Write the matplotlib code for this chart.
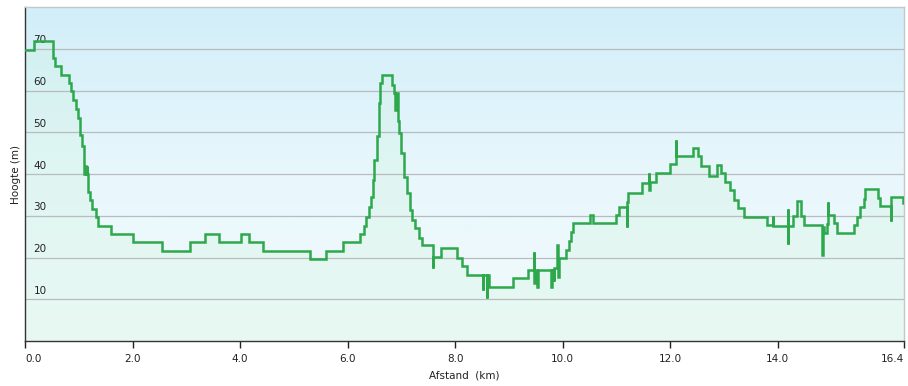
import numpy as np
import matplotlib
matplotlib.use("Agg")
import matplotlib.pyplot as plt
from matplotlib.colors import LinearSegmentedColormap
from matplotlib.transforms import ScaledTranslation

# ---- data (distance km, elevation m), step-wise GPS profile ----
distance_km = [
    0.00, 0.16, 0.52, 0.56, 0.67, 0.81, 0.86, 0.90, 0.95, 0.99, 1.03, 1.06,
    1.09, 1.10, 1.115, 1.13, 1.145, 1.16, 1.18, 1.21, 1.24, 1.32, 1.35,
    1.60, 2.01, 2.55, 3.06, 3.35, 3.60, 4.02, 4.16, 4.42, 5.31, 5.59, 5.92,
    6.24, 6.30, 6.35, 6.40, 6.43, 6.47, 6.50, 6.54, 6.58, 6.61, 6.64, 6.82,
    6.86, 6.89, 6.895, 6.93, 6.95, 7.00, 7.05, 7.10, 7.16, 7.20, 7.25, 7.33,
    7.39, 7.58, 7.585, 7.73, 8.03, 8.12, 8.23, 8.51, 8.515, 8.59, 8.595,
    8.63, 9.07, 9.35, 9.47, 9.475, 9.48, 9.53, 9.535, 9.79, 9.795, 9.84,
    9.845, 9.90, 9.905, 9.93, 10.06, 10.12, 10.15, 10.20, 10.51, 10.57,
    10.99, 11.05, 11.20, 11.205, 11.22, 11.47, 11.61, 11.615, 11.62, 11.74,
    12.00, 12.10, 12.105, 12.42, 12.51, 12.57, 12.73, 12.87, 12.95, 13.02,
    13.11, 13.19, 13.27, 13.38, 13.80, 13.91, 13.915, 14.19, 14.195, 14.20,
    14.28, 14.36, 14.44, 14.49, 14.83, 14.835, 14.87, 14.92, 14.94, 14.945,
    15.04, 15.11, 15.42, 15.48, 15.54, 15.60, 15.62, 15.86, 15.91, 16.11,
    16.115, 16.33, 16.35,
]
elevation_m = [
    69.8, 71.8, 67.8, 65.8, 63.8, 61.8, 59.8, 57.8, 55.6, 53.4, 49.4, 46.6,
    42.0, 40.0, 42.0, 40.0, 42.0, 40.0, 35.8, 33.8, 31.6, 29.6, 27.6,
    25.6, 23.6, 21.6, 23.6, 25.6, 23.6, 25.6, 23.6, 21.6, 19.6, 21.6, 23.6,
    25.6, 27.6, 29.8, 32.2, 34.6, 38.6, 43.4, 49.0, 57.0, 61.8, 63.6, 61.4,
    59.4, 55.4, 59.4, 52.6, 49.8, 45.0, 39.4, 35.4, 31.4, 29.1, 27.0, 24.6,
    23.0, 17.6, 20.2, 22.2, 20.0, 17.9, 15.9, 12.2, 15.9, 10.2, 15.9,
    13.0, 15.0, 17.0, 21.4, 13.8, 17.0, 13.0, 17.0, 13.0, 17.0, 14.4,
    17.4, 23.0, 15.4, 19.8, 21.8, 23.9, 26.2, 28.2, 30.2, 28.2,
    30.2, 32.2, 27.4, 33.4, 35.5, 37.8, 40.3, 36.2, 38.0, 40.2,
    42.4, 48.2, 44.2, 46.2, 44.2, 41.8, 39.6, 42.2, 40.2, 38.2,
    36.2, 33.8, 31.8, 29.8, 27.8, 30.0, 27.6, 23.2, 31.5, 27.6,
    30.0, 33.6, 30.0, 27.8, 20.6, 27.4, 25.8, 28.0, 33.4, 30.2,
    28.2, 25.9, 27.8, 29.8, 32.0, 34.0, 36.3, 34.2, 32.3, 28.8,
    34.4, 33.0, 33.0,
]
x_ticks = [0.0, 2.0, 4.0, 6.0, 8.0, 10.0, 12.0, 14.0, 16.35]
x_tick_labels = ["0.0", "2.0", "4.0", "6.0", "8.0", "10.0", "12.0", "14.0", "16.4"]
y_ticks = [10, 20, 30, 40, 50, 60, 70]
y_tick_labels = ["10", "20", "30", "40", "50", "60", "70"]

plt.rcParams['font.family'] = ['DejaVu Sans']

fig = plt.figure(figsize=(9.08, 3.86), dpi=100)
fig.patch.set_facecolor('white')
ax = fig.add_axes([25 / 908, 45 / 386, 879 / 908, 334 / 386])

# background gradient
cmap = LinearSegmentedColormap.from_list('bg', ['#f3fbfc', '#e8f7fc', '#d2eef9'])
grad = np.linspace(0, 1, 256).reshape(-1, 1)
ax.imshow(grad, cmap=cmap, extent=[0, 1, 0, 1], transform=ax.transAxes,
          aspect='auto', origin='lower', zorder=0)

x = np.array(distance_km)
y = np.array(elevation_m)
ax.fill_between(x, y, 0, step='post', color='#c4f2d2', alpha=0.22, zorder=1, linewidth=0)
ax.plot(x, y, drawstyle='steps-post', color='#2ea84c', linewidth=1.8, zorder=3,
        solid_joinstyle='miter')

ax.set_xlim(0, 16.35)
ax.set_ylim(0, 80)

# grid
for v in y_ticks:
    ax.axhline(v, color='#b8bcbe', linewidth=0.9, zorder=2)

ax.set_yticks(y_ticks)
ax.set_yticklabels(y_tick_labels)
ax.tick_params(axis='y', length=0, pad=-6, labelsize=7.5, colors='#222222')
for lab in ax.get_yticklabels():
    lab.set_horizontalalignment('left')
    lab.set_verticalalignment('bottom')
    lab.set_transform(lab.get_transform() + ScaledTranslation(0, 2.5 / 72, fig.dpi_scale_trans))

ax.set_xticks(x_ticks)
ax.set_xticklabels(x_tick_labels)
ax.tick_params(axis='x', length=5, width=1, pad=4, labelsize=7.5, colors='#222222')
xl = ax.get_xticklabels()
xl[0].set_horizontalalignment('left')
xl[-1].set_horizontalalignment('right')

ax.set_xlabel('Afstand  (km)', fontsize=7.5, labelpad=5, color='#222222')
ax.set_ylabel('Hoogte (m)', fontsize=7.5, labelpad=3, color='#222222')

for s in ['top', 'right']:
    ax.spines[s].set_color('#c4c8ca')
    ax.spines[s].set_linewidth(1)
ax.spines['left'].set_color('#333333')
ax.spines['bottom'].set_color('#333333')
ax.spines['left'].set_linewidth(1)
ax.spines['bottom'].set_linewidth(1)

fig.savefig('out.png', dpi=100)
